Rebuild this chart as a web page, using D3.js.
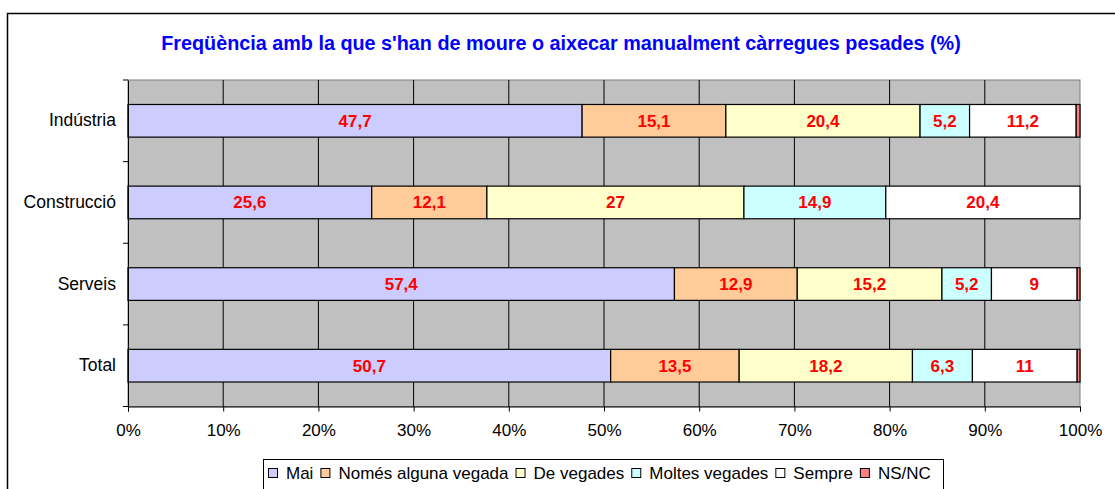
<!DOCTYPE html>
<html>
<head>
<meta charset="utf-8">
<script src="https://cdn.jsdelivr.net/npm/d3@7"></script>
<style>
  body { margin: 0; background: #fff; }
  svg { display: block; font-family: "Liberation Sans", Arial, sans-serif; }
</style>
</head>
<body>
<div id="chart"></div>
<script>
const categories = ["Indústria", "Construcció", "Serveis", "Total"];
const seriesNames = ["Mai", "Només alguna vegada", "De vegades", "Moltes vegades", "Sempre", "NS/NC"];
const seriesColors = ["#ccccff", "#ffcc99", "#ffffcc", "#ccffff", "#ffffff", "#ff8080"];
const mai = [47.7, 25.6, 57.4, 50.7];
const nomes = [15.1, 12.1, 12.9, 13.5];
const deVegades = [20.4, 27, 15.2, 18.2];
const moltes = [5.2, 14.9, 5.2, 6.3];
const sempre = [11.2, 20.4, 9, 11];
const nsnc = [0.4, 0, 0.3, 0.3];
const xTicks = [0, 10, 20, 30, 40, 50, 60, 70, 80, 90, 100];

const width = 1115, height = 489;
const plot = { left: 128, right: 1080, top: 80, bottom: 406.5 };

const svg = d3.select("#chart").append("svg")
  .attr("width", width).attr("height", height);

// outer chart frame
svg.append("rect")
  .attr("x", 7.5).attr("y", 13.5)
  .attr("width", 1200).attr("height", 600)
  .attr("fill", "none").attr("stroke", "#000").attr("stroke-width", 1.5);

// title
svg.append("text")
  .attr("x", 561).attr("y", 50)
  .attr("text-anchor", "middle")
  .attr("fill", "#0000ff")
  .style("font-size", "19.8px").style("font-weight", "bold")
  .text("Freqüència amb la que s'han de moure o aixecar manualment càrregues pesades (%)");

let xScale = d3.scaleLinear().domain([0, 100]).range([plot.left, plot.right]);
let yScale = d3.scaleBand().domain(categories).range([plot.top, plot.bottom]).paddingInner(0.6).paddingOuter(0.3);
let yBand = d3.scaleBand().domain(categories).range([plot.top, plot.bottom]);

// plot background
svg.append("rect")
  .attr("x", plot.left).attr("y", plot.top)
  .attr("width", plot.right - plot.left).attr("height", plot.bottom - plot.top)
  .attr("fill", "#c0c0c0").attr("stroke", "#808080").attr("stroke-width", 1);

// vertical grid
svg.selectAll(".grid").data(xTicks.slice(1, -1)).enter()
  .append("line")
  .attr("x1", d => xScale(d)).attr("x2", d => xScale(d))
  .attr("y1", plot.top).attr("y2", plot.bottom)
  .attr("stroke", "#000").attr("stroke-width", 1);

// stacked data
const rows = categories.map((c, i) => {
  const vals = [mai[i], nomes[i], deVegades[i], moltes[i], sempre[i], nsnc[i]];
  let acc = 0;
  return vals.map((v, k) => { const s = { cat: c, k: k, v: v, x0: acc, x1: acc + v }; acc += v; return s; });
});
const segs = rows.flat();

svg.selectAll(".seg").data(segs.filter(d => d.v > 0)).enter()
  .append("rect")
  .attr("x", d => xScale(d.x0))
  .attr("y", d => yScale(d.cat))
  .attr("width", d => xScale(d.x1) - xScale(d.x0))
  .attr("height", yScale.bandwidth())
  .attr("fill", d => seriesColors[d.k])
  .attr("stroke", "#000").attr("stroke-width", 1.2);

// value labels
svg.selectAll(".lbl").data(segs.filter(d => d.k < 5)).enter()
  .append("text")
  .attr("x", d => xScale((d.x0 + d.x1) / 2))
  .attr("y", d => yScale(d.cat) + yScale.bandwidth() / 2 + 6)
  .attr("text-anchor", "middle")
  .attr("fill", "#ff0000")
  .style("font-size", "17px").style("font-weight", "bold")
  .text(d => String(d.v).replace(".", ","));

// x axis
let xAxis = svg.append("g")
  .attr("transform", "translate(0," + plot.bottom + ")")
  .call(d3.axisBottom(xScale).tickValues(xTicks).tickSize(5).tickPadding(12).tickFormat(d => d + "%"));
xAxis.select(".domain").attr("stroke", "#000");
xAxis.selectAll("text").style("font-size", "17px").attr("fill", "#000")
  .style("font-family", "'Liberation Sans', Arial, sans-serif");

// y axis
let yAxis = svg.append("g")
  .attr("transform", "translate(" + plot.left + ",0)")
  .call(d3.axisLeft(yBand).tickSize(0).tickPadding(12));
yAxis.select(".domain").attr("stroke", "#000");
yAxis.selectAll("text").style("font-size", "17.5px").attr("fill", "#000")
  .style("font-family", "'Liberation Sans', Arial, sans-serif");
// category boundary ticks
svg.selectAll(".ytick").data(d3.range(categories.length + 1)).enter()
  .append("line")
  .attr("x1", plot.left - 5).attr("x2", plot.left)
  .attr("y1", i => plot.top + i * yBand.step())
  .attr("y2", i => plot.top + i * yBand.step())
  .attr("stroke", "#000");

// legend
const legend = svg.append("g");
legend.append("rect")
  .attr("x", 263.5).attr("y", 459.5).attr("width", 680).attr("height", 60)
  .attr("fill", "#fff").attr("stroke", "#000");
let lx = 268;
seriesNames.forEach((name, i) => {
  legend.append("rect")
    .attr("x", lx + 0.5).attr("y", 468.5).attr("width", 9).attr("height", 9)
    .attr("fill", seriesColors[i]).attr("stroke", "#000");
  const t = legend.append("text")
    .attr("x", lx + 18).attr("y", 479)
    .style("font-size", "17px").attr("fill", "#000")
    .text(name);
  lx += 18 + t.node().getComputedTextLength() + 7;
});
</script>
</body>
</html>
